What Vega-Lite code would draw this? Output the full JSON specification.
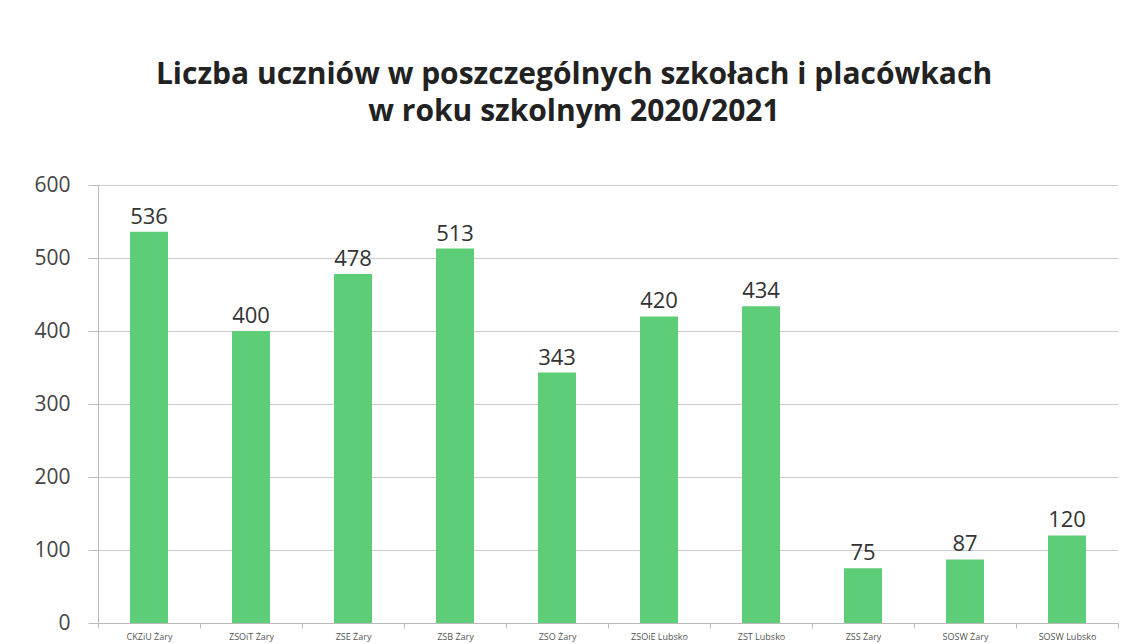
{
  "$schema": "https://vega.github.io/schema/vega-lite/v6.json",
  "autosize": "none",
  "width": 1020,
  "height": 438,
  "padding": {"left": 98, "top": 185, "right": 8, "bottom": 21},
  "background": "white",
  "title": {
    "text": ["Liczba uczniów w poszczególnych szkołach i placówkach", "w roku szkolnym 2020/2021"],
    "font": "Open Sans",
    "fontSize": 30,
    "fontWeight": "bold",
    "color": "#222222",
    "anchor": "middle",
    "dx": -34,
    "offset": 47,
    "lineHeight": 37
  },
  "data": {
    "values": [
      {"szkola": "CKZiU Żary", "uczniowie": 536},
      {"szkola": "ZSOiT Żary", "uczniowie": 400},
      {"szkola": "ZSE Żary", "uczniowie": 478},
      {"szkola": "ZSB Żary", "uczniowie": 513},
      {"szkola": "ZSO Żary", "uczniowie": 343},
      {"szkola": "ZSOiE Lubsko", "uczniowie": 420},
      {"szkola": "ZST Lubsko", "uczniowie": 434},
      {"szkola": "ZSS Żary", "uczniowie": 75},
      {"szkola": "SOSW Żary", "uczniowie": 87},
      {"szkola": "SOSW Lubsko", "uczniowie": 120}
    ]
  },
  "encoding": {
    "x": {
      "field": "szkola",
      "type": "nominal",
      "sort": null,
      "scale": {"paddingInner": 0, "paddingOuter": 0},
      "axis": {
        "title": null,
        "labelAngle": 0,
        "labelFontSize": 9,
        "labelColor": "#555555",
        "labelFont": "Open Sans",
        "labelPadding": 4,
        "tickBand": "extent",
        "tickSize": 5,
        "tickColor": "#bbbbbb",
        "domainColor": "#bbbbbb",
        "grid": false
      }
    },
    "y": {
      "field": "uczniowie",
      "type": "quantitative",
      "scale": {"domain": [0, 600]},
      "axis": {
        "title": null,
        "values": [0, 100, 200, 300, 400, 500, 600],
        "labelFontSize": 21,
        "labelFont": "Open Sans",
        "labelColor": "#444444",
        "labelPadding": 18,
        "tickSize": 10,
        "tickColor": "#bbbbbb",
        "domainColor": "#bbbbbb",
        "gridColor": "#cccccc"
      }
    }
  },
  "layer": [
    {"mark": {"type": "bar", "color": "#5dcd77", "size": 38}},
    {
      "mark": {"type": "text", "dy": -15, "fontSize": 22, "font": "Open Sans", "color": "#333333"},
      "encoding": {"text": {"field": "uczniowie", "type": "quantitative"}}
    }
  ],
  "config": {"view": {"stroke": null}}
}
